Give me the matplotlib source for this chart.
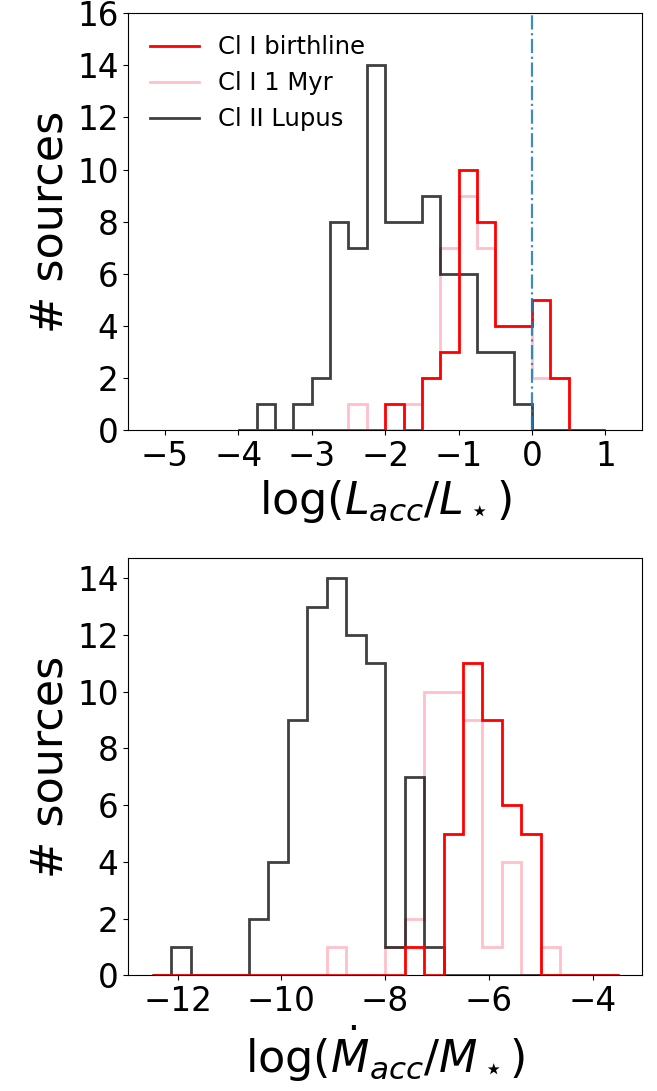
import numpy as np
import matplotlib
matplotlib.use("Agg")
import matplotlib.pyplot as plt

# ---- data: top panel, log(Lacc/L*) ----
lacc_edges = np.linspace(-4.0, 1.0, 21)
lacc_birthline = [0, 0, 0, 0, 0, 0, 0, 0, 1, 0, 2, 3, 10, 8, 4, 4, 5, 2, 0, 0]
lacc_1myr = [0, 0, 0, 0, 0, 0, 1, 0, 0, 1, 2, 7, 9, 7, 4, 4, 2, 2, 0, 0]
lacc_lupus = [0, 1, 0, 1, 2, 8, 7, 14, 8, 8, 9, 6, 6, 3, 3, 1, 0, 0, 0, 0]

# ---- data: bottom panel, log(Macc/M*) ----
macc_edges = np.linspace(-12.5, -3.5, 25)
macc_birthline = [0, 0, 0, 0, 0, 0, 0, 0, 0, 0, 0, 0, 0, 1, 0, 5, 11, 9, 6, 5, 0, 0, 0, 0]
macc_1myr = [0, 0, 0, 0, 0, 0, 0, 0, 0, 1, 0, 0, 1, 2, 10, 10, 9, 1, 4, 0, 1, 0, 0, 0]
macc_lupus = [0, 1, 0, 0, 0, 2, 4, 9, 13, 14, 12, 11, 1, 7, 1, 0, 0, 0, 0, 0, 0, 0, 0, 0]

labels = ["Cl I birthline", "Cl I 1 Myr", "Cl II Lupus"]
vline_x = 0.0

fig = plt.figure(figsize=(6.57, 10.91), dpi=100)
ax1 = fig.add_axes([0.1953, 0.6059, 0.7819, 0.3819])
ax2 = fig.add_axes([0.1953, 0.1059, 0.7819, 0.3824])

tick_fs = 23.5
label_fs = 32

def draw(ax, edges, red, pink, black):
    ax.stairs(red, edges, color="red", lw=2, label=labels[0], zorder=3)
    ax.stairs(pink, edges, color="pink", lw=2, label=labels[1], zorder=2)
    ax.stairs(black, edges, color="black", alpha=0.75, lw=2, label=labels[2], zorder=2.5)
    ax.tick_params(labelsize=tick_fs)
    ax.set_ylabel("# sources", fontsize=label_fs)

draw(ax1, lacc_edges, lacc_birthline, lacc_1myr, lacc_lupus)
ax1.axvline(vline_x, color="C0", ls="-.", lw=1.6, alpha=0.85, zorder=4)
ax1.set_xlim(-5.5, 1.5)
ax1.set_ylim(0, 16)
ax1.set_xticks([-5, -4, -3, -2, -1, 0, 1])
ax1.set_yticks(range(0, 17, 2))
ax1.set_xlabel(r"log($L_{acc}/L_\star$)", fontsize=label_fs)
ax1.legend(loc="upper left", frameon=False, fontsize=17.5)

draw(ax2, macc_edges, macc_birthline, macc_1myr, macc_lupus)
ax2.set_xlim(-12.95, -3.05)
ax2.set_ylim(0, 14.7)
ax2.set_xticks([-12, -10, -8, -6, -4])
ax2.set_yticks(range(0, 15, 2))
ax2.set_xlabel(r"log($\dot{M}_{acc}/M_\star$)", fontsize=label_fs)

fig.savefig("out.png", dpi=100)
